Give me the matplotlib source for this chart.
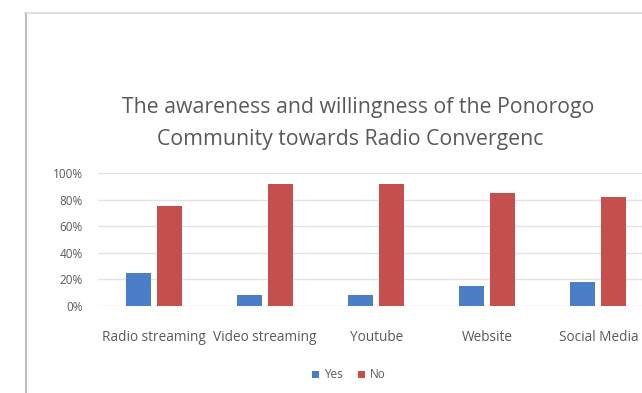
import numpy as np
import matplotlib.pyplot as plt
from matplotlib.lines import Line2D

# data
categories = ["Radio streaming", "Video streaming", "Youtube", "Website", "Social Media"]
yes_vals = [0.25, 0.08, 0.08, 0.15, 0.18]
no_vals = [0.75, 0.92, 0.92, 0.85, 0.82]
yticks = [0, 0.2, 0.4, 0.6, 0.8, 1.0]
ytick_labels = ["0%", "20%", "40%", "60%", "80%", "100%"]

plt.rcParams['font.family'] = ['Open Sans', 'DejaVu Sans']
grey = "#595959"
W, H = 642, 393

fig = plt.figure(figsize=(6.42, 3.93), dpi=100)

# outer chart frame (only left and top edges are inside the picture)
fig.add_artist(Line2D([25.5/W, 25.5/W], [0, 1 - 13/H], transform=fig.transFigure, color="#BDBDBD", lw=1.5))
fig.add_artist(Line2D([25/W, 1], [1 - 13/H, 1 - 13/H], transform=fig.transFigure, color="#D9D9D9", lw=1.2))

# plot area runs past the right edge of the picture
left = 98.4
ax = fig.add_axes([left/W, 1 - 306/H, (W - left)/W, 132.7/H])
x = np.arange(len(categories))
w = 0.225
ax.bar(x - 0.14, yes_vals, w, color="#4A7EC6", label="Yes", zorder=3)
ax.bar(x + 0.14, no_vals, w, color="#C44F4C", label="No", zorder=3)

ax.set_xlim(-0.5, -0.5 + (W - left)/111.1)
ax.set_ylim(0, 1.0)
ax.set_yticks(yticks)
ax.set_yticklabels(ytick_labels, fontsize=8.5, color=grey)
ax.set_xticks(x)
ax.set_xticklabels(categories, fontsize=9.8, color=grey)
ax.tick_params(axis='both', length=0)
ax.tick_params(axis='x', pad=17)
ax.tick_params(axis='y', pad=11)
ax.grid(axis='y', color="#E3E3E3", lw=1.0, zorder=0)
for s in ax.spines.values():
    s.set_visible(False)

fig.text(358/W, 1 - 113/H, "The awareness and willingness of the Ponorogo",
         ha='center', va='baseline', fontsize=15.3, color=grey)
fig.text(350/W, 1 - 145/H, "Community towards Radio Convergenc",
         ha='center', va='baseline', fontsize=15.3, color=grey)

ax.legend(loc='center', bbox_to_anchor=(349/W, 1 - 375/H), bbox_transform=fig.transFigure,
          ncol=2, frameon=False, fontsize=8.5, handlelength=0.6, handleheight=0.6,
          columnspacing=1.3, handletextpad=0.4, labelcolor=grey)

fig.savefig("out.png", dpi=100, facecolor="white")
